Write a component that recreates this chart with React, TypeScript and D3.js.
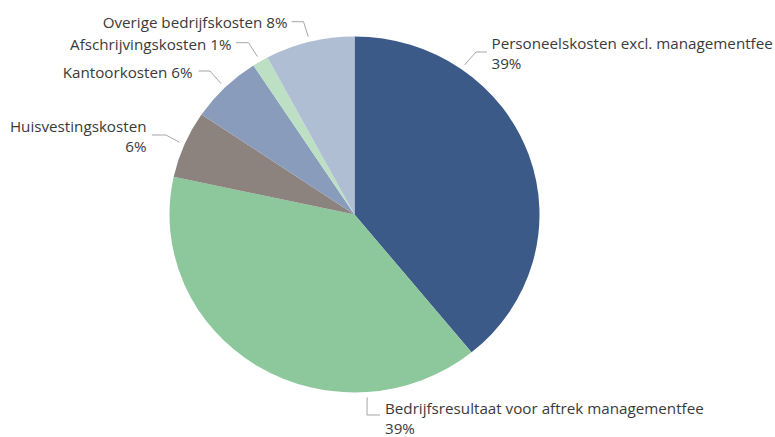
import * as d3 from 'd3';

// slice order follows the chart, clockwise from 12 o'clock
const categories = [
  'Personeelskosten excl. managementfee',
  'Bedrijfsresultaat voor aftrek managementfee',
  'Huisvestingskosten',
  'Kantoorkosten',
  'Afschrijvingskosten',
  'Overige bedrijfskosten',
];
const shares = [39.1, 39.3, 6.1, 6.3, 1.4, 7.8];
const colors = ['#3b5a87', '#8cc89b', '#8c837e', '#8a9cbb', '#bde0c5', '#b0bed4'];

// label layout (Excel "best fit" look)
const labelLayout = [
  { x: 491.5, y: 49, anchor: 'start', twoLines: true, leaderAngle: 35.3, elbow: [476, 52], end: [487, 52] },
  { x: 385, y: 414, anchor: 'start', twoLines: true, leaderAngle: 176.2, elbow: [367, 415], end: [380, 415] },
  { x: 146.5, y: 131.5, anchor: 'end', twoLines: true, leaderAngle: null, elbow: [166, 135], end: [152, 135] },
  { x: 192.5, y: 77.5, anchor: 'end', twoLines: false, leaderAngle: null, elbow: [210, 71], end: [198.5, 71] },
  { x: 231.5, y: 50, anchor: 'end', twoLines: false, leaderAngle: null, elbow: [248.5, 42.7], end: [236, 42.7] },
  { x: 287.5, y: 27.5, anchor: 'end', twoLines: false, leaderAngle: null, elbow: [303.5, 21.7], end: [291.7, 21.7] },
];

const W = 775;
const H = 437;
const cx = 354.5;
const cy = 214.5;
const rx = 185;
const ry = 178;

export default function App() {
  const total = d3.sum(shares);
  const pie = d3.pie<number>().sort(null).value((d) => d);
  const arcs = pie(shares);
  const arc = d3.arc<d3.PieArcDatum<number>>().innerRadius(0).outerRadius(rx);
  const lineGen = d3.line();

  const onEllipse = (deg: number, k: number): [number, number] => {
    const a = (deg * Math.PI) / 180;
    return [cx + Math.sin(a) * rx * k, cy - Math.cos(a) * ry * k];
  };

  return (
    <svg
      width={W}
      height={H}
      style={{ position: 'absolute', left: 0, top: 0, background: '#fff' }}
      fontFamily="'Open Sans', sans-serif"
      fontSize={15.2}
    >
      <g transform={`translate(${cx},${cy}) scale(1,${ry / rx})`}>
        {arcs.map((a, i) => (
          <path key={i} d={arc(a) || ''} fill={colors[i]} />
        ))}
      </g>
      {arcs.map((a, i) => {
        const lay = labelLayout[i];
        const mid = (((a.startAngle + a.endAngle) / 2) * 180) / Math.PI;
        const start = onEllipse(lay.leaderAngle ?? mid, 1.03);
        const pct = `${Math.round((shares[i] / total) * 100)}%`;
        return (
          <g key={i}>
            <path
              d={lineGen([start, lay.elbow as [number, number], lay.end as [number, number]]) || ''}
              fill="none"
              stroke="#a6a6a6"
              strokeWidth={1}
            />
            <text x={lay.x} y={lay.y} textAnchor={lay.anchor} fill="#3a3a3a">
              {lay.twoLines ? (
                <>
                  <tspan x={lay.x}>{categories[i]}</tspan>
                  <tspan x={lay.x} dy={20}>{pct}</tspan>
                </>
              ) : (
                `${categories[i]} ${pct}`
              )}
            </text>
          </g>
        );
      })}
    </svg>
  );
}
